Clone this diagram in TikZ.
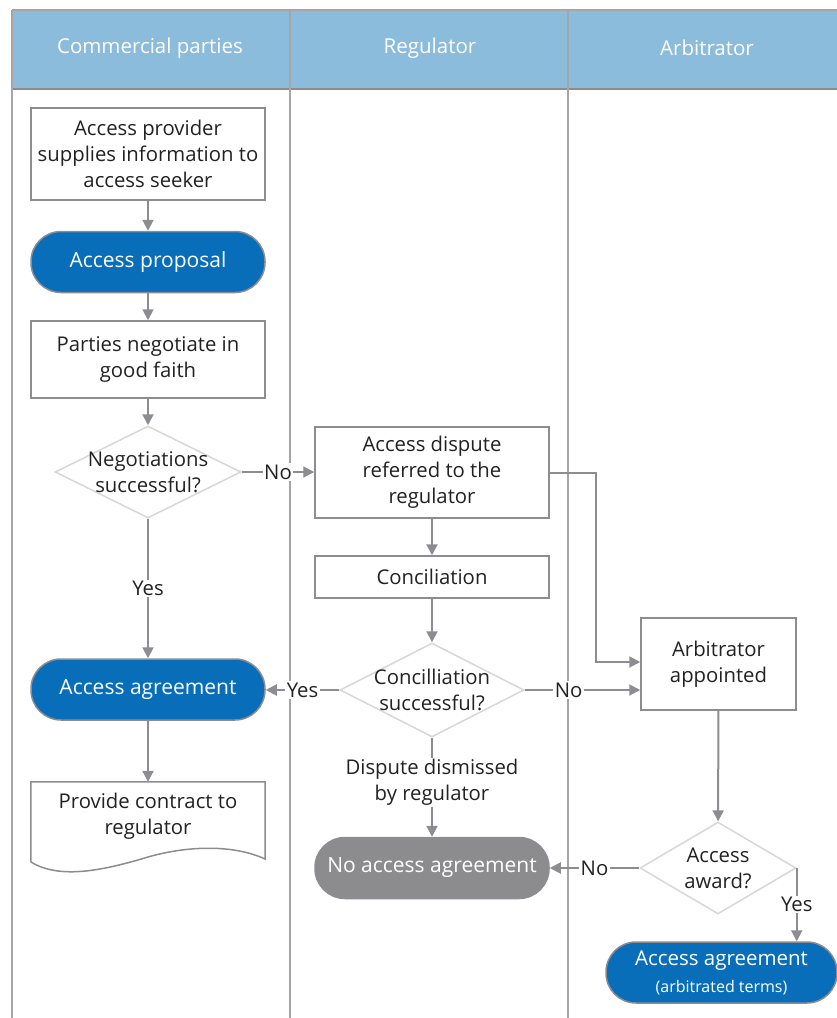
\documentclass[tikz,border=0pt]{standalone}
\usepackage{fontspec}
\setmainfont{Open Sans}
\usetikzlibrary{arrows.meta,shapes.geometric}
\definecolor{hdr}{RGB}{139,188,220}
\definecolor{lanec}{RGB}{165,165,168}
\definecolor{arr}{RGB}{140,140,145}
\definecolor{boxc}{RGB}{140,140,145}
\definecolor{diac}{RGB}{215,215,215}
\definecolor{blu}{RGB}{8,110,185}
\definecolor{gry}{RGB}{140,140,143}
\definecolor{txt}{RGB}{34,34,34}
\begin{document}
\begin{tikzpicture}[x=1pt,y=-1pt,
 every node/.style={font=\fontsize{20.3}{26}\selectfont, text=txt, align=center},
 box/.style={draw=boxc, line width=1.5pt, fill=white, minimum width=234pt, inner sep=0pt},
 term/.style={draw=boxc, line width=1.5pt, rounded corners=30pt, minimum width=234pt, minimum height=61pt, text=white, inner sep=0pt, font=\fontsize{21}{26}\selectfont},
 dec/.style={diamond, draw=diac, line width=1.5pt, inner sep=0pt},
 arrow/.style={draw=arr, line width=2pt, -{Triangle[length=11pt,width=11pt]}},
 lbl/.style={fill=white, inner sep=1.5pt},
 lane/.style={draw=lanec, line width=2pt},
 hdrtext/.style={text=white, font=\fontsize{20.5}{24}\selectfont},
]
\useasboundingbox (0,0) rectangle (837,1018);
% header and lanes
\fill[hdr] (12,10) rectangle (845,89);
\draw[lane] (12,10) -- (845,10);
\draw[draw=gry, line width=2pt] (12,89) -- (845,89);
\draw[lane] (12,10) -- (12,1018);
\draw[lane] (290,10) -- (290,1018);
\draw[lane] (568,10) -- (568,1018);
\node[hdrtext] (h1) at (150,48) {Commercial parties};
\node[hdrtext] (h2) at (430,48) {Regulator};
\node[hdrtext] (h3) at (707,48) {Arbitrator};
% nodes
\node[box, minimum height=92pt] (n1) at (148,154) {Access provider\\supplies information to\\access seeker};
\node[term, fill=blu] (n2) at (148,262) {Access proposal};
\node[box, minimum height=77pt] (n3) at (148,359.5) {Parties negotiate in\\good faith};
\node[dec, minimum width=186pt, minimum height=92pt] (d1) at (148,472) {};
\node (d1t) at (d1) {Negotiations\\successful?};
\node[box, minimum height=91pt] (n4) at (432,472.5) {Access dispute\\referred to the\\regulator};
\node[box, minimum height=42pt] (n5) at (432,577) {Conciliation};
\node[dec, minimum width=184pt, minimum height=94pt] (d2) at (432,690) {};
\node (d2t) at (d2) {Concilliation\\successful?};
\node[term, fill=blu] (n6) at (148,689.5) {Access agreement};
\node[box, minimum width=155pt, minimum height=92pt] (n7) at (718.5,664) {Arbitrator\\appointed};
\node[dec, minimum width=156pt, minimum height=92pt] (d3) at (718,868) {};
\node (d3t) at (d3) {Access\\award?};
\node[term, fill=gry] (n8) at (432,868) {No access agreement};
\node[term, fill=blu, minimum width=231pt, font=\fontsize{20.5}{27}\selectfont] (n9) at (721.5,972.5) {Access agreement\\{\fontsize{16}{19}\selectfont (arbitrated terms)}};
\node[minimum width=234pt, minimum height=80pt, inner sep=0pt] (n10) at (148,822) {};
\draw[draw=boxc, line width=1.5pt, fill=white] (n10.north west) -- (n10.north east) -- (265,859)
  .. controls (235,845) and (190,845) .. (148,857)
  .. controls (105,870) and (60,880) .. (31,862) -- cycle;
\node (n10t) at (148,816) {Provide contract to\\regulator};
% connectors
\draw[arrow] (n1) -- (n2);
\draw[arrow] (n2) -- (n3);
\draw[arrow] (n3) -- (d1);
\draw[arrow] (d1.east) -- node[lbl]{No} (d1.east -| n4.west);
\draw[arrow] (d1) -- node[lbl]{Yes} (n6);
\draw[arrow] (n4) -- (n5);
\draw[arrow] (n5) -- (d2);
\draw[arrow] (d2.west) -- node[lbl]{Yes} (d2.west -| n6.east);
\draw[arrow] (d2.east) -- node[lbl, pos=0.38]{No} (d2.east -| n7.west);
\coordinate (bend) at (596,472.5);
\draw[arrow] (n4.east) -- (bend) |- ([yshift=2pt]n7.west);
\draw[arrow] (n7) -- (d3);
\draw[arrow] (d3.west) -- node[lbl]{No} (d3.west -| n8.east);
\draw[arrow] (d3.east) -- node[lbl]{Yes} (d3.east |- n9.north);
\draw[arrow] (d2) -- node[lbl, pos=0.45]{Dispute dismissed\\by regulator} (n8);
\draw[arrow] (n6) -- (n10.north);
\end{tikzpicture}
\end{document}
